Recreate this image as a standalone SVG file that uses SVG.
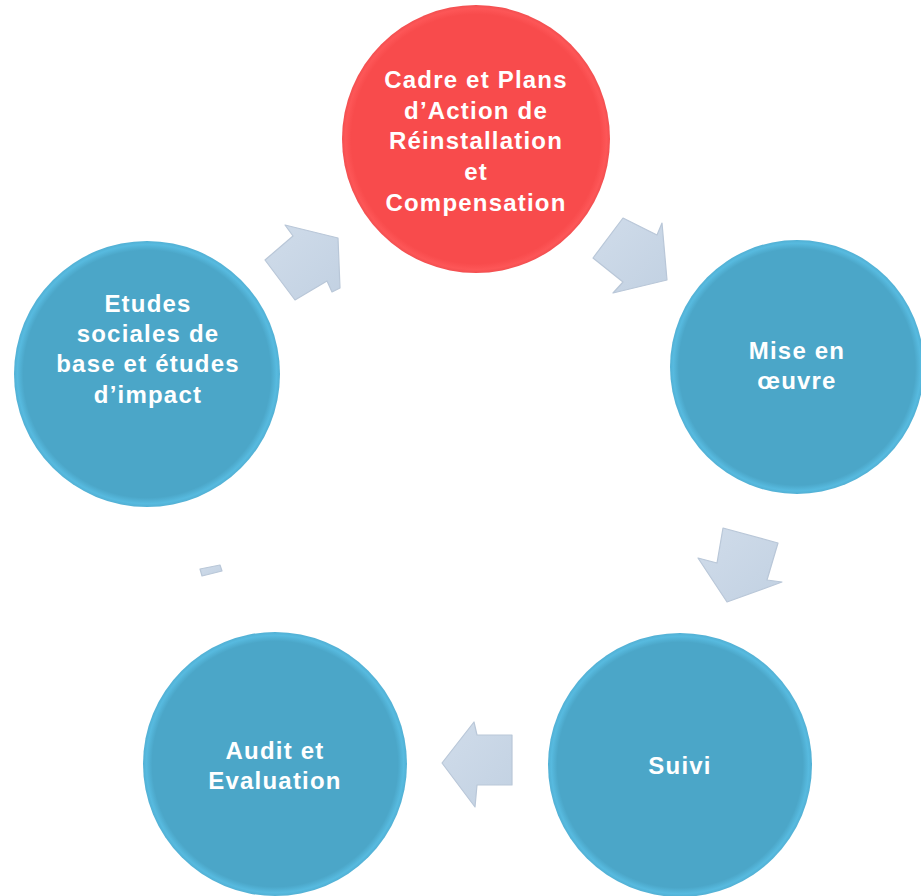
<svg xmlns="http://www.w3.org/2000/svg" width="921" height="896" viewBox="0 0 921 896">
<style>
.lbl{font-family:"Liberation Sans",Arial,sans-serif;font-weight:bold;font-size:24px;fill:#ffffff;text-anchor:middle;letter-spacing:1.2px}
.arr{fill:url(#ag);stroke:#b9c7d8;stroke-width:1.2;stroke-linejoin:round}
</style>
<defs>
<radialGradient id="bg" cx="0.5" cy="0.5" r="0.5">
<stop offset="0" stop-color="#4ba6c8"/>
<stop offset="0.93" stop-color="#4ba6c8"/>
<stop offset="0.975" stop-color="#57badf"/>
<stop offset="1" stop-color="#52b0d4"/>
</radialGradient>
<radialGradient id="rg" cx="0.5" cy="0.5" r="0.5">
<stop offset="0" stop-color="#f84b4c"/>
<stop offset="0.93" stop-color="#f84b4c"/>
<stop offset="0.975" stop-color="#fd5657"/>
<stop offset="1" stop-color="#f24f50"/>
</radialGradient>
<linearGradient id="ag" x1="0" y1="0" x2="1" y2="1">
<stop offset="0" stop-color="#d0dcea"/>
<stop offset="1" stop-color="#c2d1e2"/>
</linearGradient>
</defs>
<g id="connectors">
<polygon class="arr" points="285,225 293,236 265,260 295,300 327,281 332,292 340,288 338,238"/>
<polygon class="arr" points="623,218 593,258 623,282 613,293 667,280 662,223 657,235"/>
<polygon class="arr" points="723,528 778,543 767,580 782,582 727,602 698,558 717,563"/>
<polygon class="arr" points="442,763 474,722 477,735 512,735 512,785 477,785 475,807"/>
<polygon class="arr" points="200,569 220,565 222,571 202,576"/>
</g>
<g id="node-cadre">
<circle cx="476" cy="139" r="134" fill="url(#rg)"/>
<text class="lbl" x="476" y="88">Cadre et Plans</text>
<text class="lbl" x="476" y="119">d’Action de</text>
<text class="lbl" x="476" y="149">Réinstallation</text>
<text class="lbl" x="476" y="180">et</text>
<text class="lbl" x="476" y="211">Compensation</text>
</g>
<g id="node-mise">
<circle cx="797" cy="367" r="127" fill="url(#bg)"/>
<text class="lbl" x="797" y="359">Mise en</text>
<text class="lbl" x="797" y="389">œuvre</text>
</g>
<g id="node-suivi">
<circle cx="680" cy="765" r="132" fill="url(#bg)"/>
<text class="lbl" x="680" y="774">Suivi</text>
</g>
<g id="node-audit">
<circle cx="275" cy="764" r="132" fill="url(#bg)"/>
<text class="lbl" x="275" y="759">Audit et</text>
<text class="lbl" x="275" y="789">Evaluation</text>
</g>
<g id="node-etudes">
<circle cx="147" cy="374" r="133" fill="url(#bg)"/>
<text class="lbl" x="148" y="312">Etudes</text>
<text class="lbl" x="148" y="342">sociales de</text>
<text class="lbl" x="148" y="372">base et études</text>
<text class="lbl" x="148" y="403">d’impact</text>
</g>
</svg>
